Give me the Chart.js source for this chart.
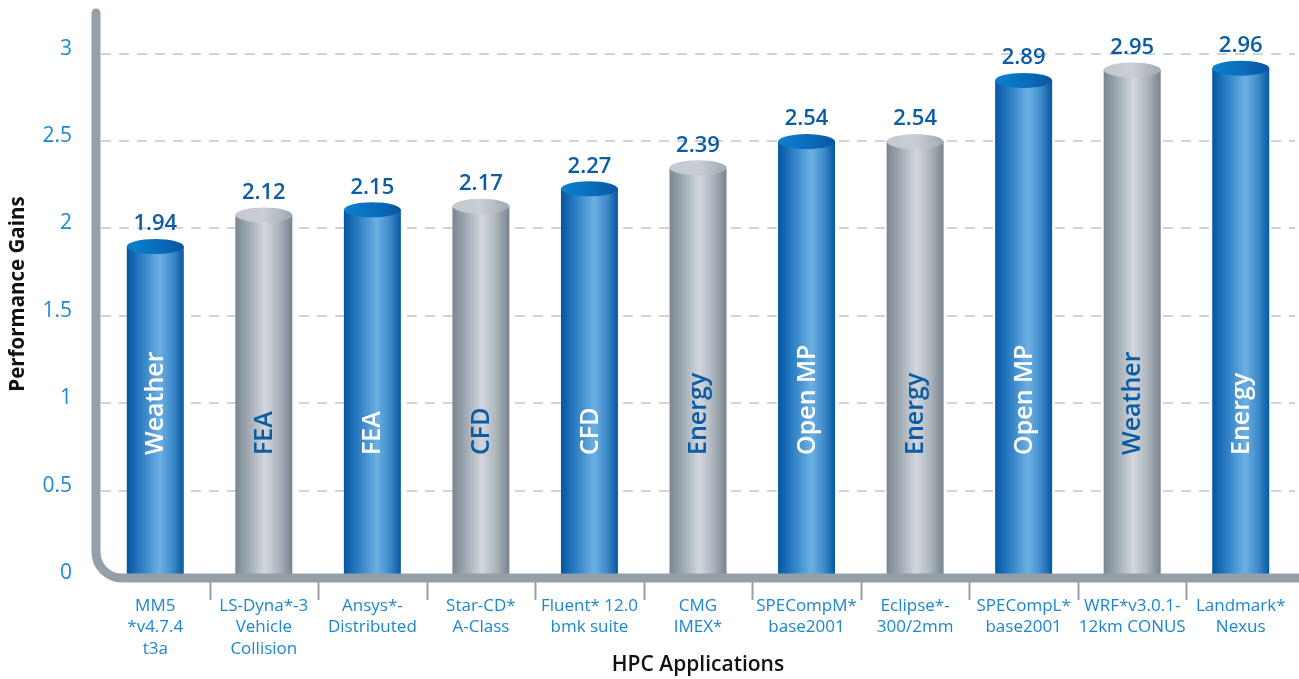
<!DOCTYPE html>
<html>
<head>
<meta charset="utf-8">
<script src="https://cdn.jsdelivr.net/npm/chart.js@4"></script>
<style>
  html, body { margin: 0; padding: 0; background: #fff; }
  #wrap { width: 1299px; height: 679px; }
</style>
</head>
<body>
<div id="wrap"><canvas id="gainsChart"></canvas></div>
<script>
// Chart data
const apps = [
    ['MM5', '*v4.7.4', 't3a'],
    ['LS-Dyna*-3', 'Vehicle', 'Collision'],
    ['Ansys*-', 'Distributed'],
    ['Star-CD*', 'A-Class'],
    ['Fluent* 12.0', 'bmk suite'],
    ['CMG', 'IMEX*'],
    ['SPECompM*', 'base2001'],
    ['Eclipse*-', '300/2mm'],
    ['SPECompL*', 'base2001'],
    ['WRF*v3.0.1-', '12km CONUS'],
    ['Landmark*', 'Nexus']
];
const domains = ['Weather', 'FEA', 'FEA', 'CFD', 'CFD', 'Energy', 'Open MP', 'Energy', 'Open MP', 'Weather', 'Energy'];
const gains = [1.94, 2.12, 2.15, 2.17, 2.27, 2.39, 2.54, 2.54, 2.89, 2.95, 2.96];
const barKind = ['blue', 'gray', 'blue', 'gray', 'blue', 'gray', 'blue', 'gray', 'blue', 'gray', 'blue'];
const yTicks = ['0', '0.5', '1', '1.5', '2', '2.5', '3'];

const FONT = '"Open Sans", "Noto Sans", sans-serif';
const AXIS_GRAY = '#949fa9';
const DARK_BLUE = '#0b5ca3';

// Body and top colours for the cylinders
const palette = {
    blue: {
        body: [[0, '#07559f'], [0.18, '#1f72bb'], [0.58, '#6cb0e3'], [0.8, '#3f8bcb'], [1, '#0857a1']],
        top: [[0, '#0a80d0'], [0.6, '#0a6ab8'], [1, '#0a55a0']],
        text: '#ffffff'
    },
    gray: {
        body: [[0, '#7a8690'], [0.2, '#9aa4ad'], [0.52, '#d3d7dd'], [0.78, '#aab2ba'], [1, '#78838e']],
        top: [[0, '#c3c9cf'], [0.5, '#c9ced4'], [1, '#a1a9b1']],
        text: DARK_BLUE
    }
};

function hGradient(ctx, x0, x1, stops) {
    const g = ctx.createLinearGradient(x0, 0, x1, 0);
    stops.forEach(s => g.addColorStop(s[0], s[1]));
    return g;
}

// Draws the axis frame, the cylinders and their labels
const cylinderPlugin = {
    id: 'cylinders',
    afterDatasetsDraw(chart) {
        const ctx = chart.ctx;
        const area = chart.chartArea;
        const meta = chart.getDatasetMeta(0);
        const yScale = chart.scales.y;
        const zeroY = yScale.getPixelForValue(0);
        const ry = 7.5;

        ctx.save();
        meta.data.forEach((bar, i) => {
            const p = palette[barKind[i]];
            const half = bar.width / 2;
            const left = bar.x - half;
            const right = bar.x + half;
            const cy = bar.y + ry;

            ctx.fillStyle = hGradient(ctx, left, right, p.body);
            ctx.fillRect(left, cy, bar.width, bar.base - cy);

            ctx.beginPath();
            ctx.ellipse(bar.x, cy, half, ry, 0, 0, Math.PI * 2);
            ctx.fillStyle = hGradient(ctx, left, right, p.top);
            ctx.fill();

            // value above the bar
            ctx.fillStyle = DARK_BLUE;
            ctx.font = '600 22px ' + FONT;
            ctx.textAlign = 'center';
            ctx.textBaseline = 'middle';
            ctx.fillText(gains[i].toFixed(2), bar.x, bar.y - 15);

            // domain name inside the bar
            ctx.save();
            ctx.translate(bar.x + 1, bar.base - 122);
            ctx.rotate(-Math.PI / 2);
            ctx.fillStyle = p.text;
            ctx.font = '600 25px ' + FONT;
            ctx.textAlign = 'left';
            ctx.textBaseline = 'middle';
            ctx.fillText(domains[i], 0, 0);
            ctx.restore();
        });

        // rounded L-shaped axis
        const ax = area.left - 5;
        const r = 26;
        ctx.strokeStyle = AXIS_GRAY;
        ctx.lineWidth = 9;
        ctx.lineCap = 'round';
        ctx.beginPath();
        ctx.moveTo(ax, area.top + 3);
        ctx.lineTo(ax, zeroY - r);
        ctx.arcTo(ax, zeroY, ax + r, zeroY, r);
        ctx.lineTo(chart.width + 10, zeroY);
        ctx.stroke();

        // separators between categories
        ctx.lineWidth = 2;
        ctx.lineCap = 'butt';
        for (let i = 0; i < meta.data.length - 1; i++) {
            const x = Math.round((meta.data[i].x + meta.data[i + 1].x) / 2) + 0.5;
            ctx.beginPath();
            ctx.moveTo(x, zeroY + 4);
            ctx.lineTo(x, zeroY + 22);
            ctx.stroke();
        }
        ctx.restore();
    }
};

const ctx = document.getElementById('gainsChart').getContext('2d');
const gainsChart = new Chart(ctx, {
    type: 'bar',
    data: {
        labels: apps,
        datasets: [{
            label: 'Performance Gains',
            data: gains,
            backgroundColor: 'rgba(0,0,0,0)',
            barPercentage: 0.525,
            categoryPercentage: 1
        }]
    },
    options: {
        responsive: true,
        maintainAspectRatio: false,
        animation: false,
        layout: { padding: { top: 10, right: 4, left: 0, bottom: 0 } },
        plugins: {
            legend: { display: false },
            tooltip: { enabled: false }
        },
        scales: {
            x: {
                afterFit(scale) {
                    scale.height = 101;
                    scale.paddingLeft = 0;
                    scale.paddingRight = 0;
                },
                grid: { display: false },
                border: { display: false },
                ticks: {
                    color: '#1b86cf',
                    font: { family: FONT, size: 17, lineHeight: 1.27 },
                    padding: 9,
                    maxRotation: 0,
                    autoSkip: false
                },
                title: {
                    display: true,
                    text: 'HPC Applications',
                    color: '#111',
                    font: { family: FONT, size: 21, weight: '600' },
                    padding: { top: 0, bottom: 1 }
                }
            },
            y: {
                min: 0,
                max: 3.25,
                afterFit(scale) {
                    scale.width = 101;
                    scale.paddingTop = 0;
                    scale.paddingBottom = 0;
                },
                afterBuildTicks(scale) {
                    scale.ticks = yTicks.map(t => ({ value: parseFloat(t) }));
                },
                grid: {
                    drawTicks: false,
                    lineWidth: 2,
                    color: c => (c.tick && c.tick.value === 0) ? 'rgba(0,0,0,0)' : '#cfd3d8'
                },
                border: { display: false, dash: [10, 8] },
                ticks: {
                    color: '#1a8ad4',
                    font: { family: FONT, size: 21, lineHeight: '10px' },
                    padding: 29,
                    // empty second line lifts the number a little above its grid line
                    callback: (v) => [yTicks[Math.round(v * 2)], '']
                },
                title: {
                    display: true,
                    text: 'Performance Gains',
                    color: '#111',
                    font: { family: FONT, size: 20.5, weight: 'bold' },
                    padding: { top: 6, bottom: 0 }
                }
            }
        }
    },
    plugins: [cylinderPlugin]
});
</script>
</body>
</html>
